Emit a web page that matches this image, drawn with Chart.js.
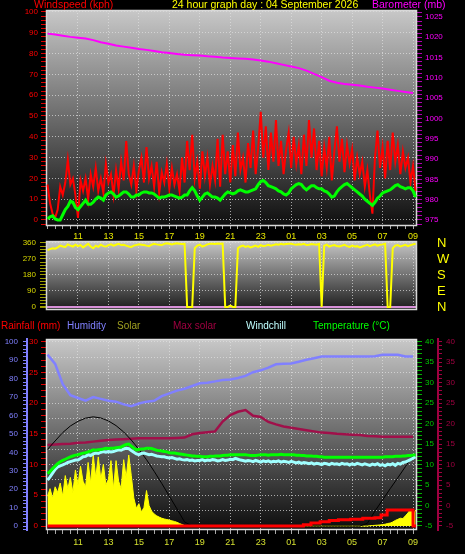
<!DOCTYPE html>
<html><head><meta charset="utf-8">
<script src="https://cdn.jsdelivr.net/npm/chart.js@4/dist/chart.umd.min.js"></script>
<style>
html,body{margin:0;padding:0;background:#000;width:465px;height:554px;overflow:hidden;position:relative;}
canvas{position:absolute;left:0;}
.t{position:absolute;font-family:"Liberation Sans",Arial,sans-serif;font-size:10.5px;line-height:12px;white-space:nowrap;}
</style></head><body>
<canvas id="cTop" style="top:0px;width:465px;height:240px" width="465" height="240"></canvas>
<canvas id="cDir" style="top:232px;width:465px;height:84px" width="465" height="84"></canvas>
<canvas id="cBot" style="top:334px;width:465px;height:220px" width="465" height="220"></canvas>
<div class="t" style="left:34px;top:-2px;color:#ff0000">Windspeed (kph)</div>
<div class="t" style="left:172px;top:-2px;color:#ffff00">24 hour graph day : 04 September 2026</div>
<div class="t" style="left:372px;top:-2px;color:#ff00ff">Barometer (mb)</div>
<div class="t" style="left:1px;top:320px;color:#ff0000;font-size:10px">Rainfall (mm)</div>
<div class="t" style="left:67px;top:320px;color:#8080ff;font-size:10px">Humidity</div>
<div class="t" style="left:117px;top:320px;color:#a0a020;font-size:10px">Solar</div>
<div class="t" style="left:173px;top:320px;color:#a00040;font-size:10px">Max solar</div>
<div class="t" style="left:246px;top:320px;color:#c0ffff;font-size:10px">Windchill</div>
<div class="t" style="left:313px;top:320px;color:#00ff00;font-size:10px">Temperature (°C)</div>
<script>
// ---------- DATA ----------
// time in hours since midnight of day 1 (9 = 09:00, 33 = 09:00 next day)
const times10 = Array.from({length:146}, (_, i) => 9 + i / 6);   // 10-minute samples
const times30 = Array.from({length:49}, (_, i) => 9 + i / 2);    // 30-minute samples

const windAvg = [0.5,1.5,2,0.5,0,0,2.5,5,6.5,9, 8.5,6,5,6.5,8,9.5,7.5,7.5,8.5,10,
 11,10.5,9.5,12,13,13.5,12.5,11,11.5,12.5, 13.5,13.5,12.5,11,11,12,12,13,13.5,13.5,
 13,13,12.5,11.5,10.5,11,11,11.5,12,12, 11.5,11,10.5,11,12,12,14,15.5,14,11.5,
 9.5,11,12.5,13,12,11,11,10.5,9.5,11, 12.5,13.5,13,12.5,13,14,14.5,14,13.5,13.5,
 14,14.5,15,17,18.5,19,18,16.5,16,15.5, 15,14,13.5,12.5,12,13,15,16,17,17.5,
 17,15.5,14.5,15.5,16.5,16.5,15.5,15,15,14, 13.5,12.5,11,11.5,13.5,15,16,17,17.5,16.5,
 15.5,14.5,13.5,12.5,11.5,10,9,8,7,8.5, 10.5,11.5,13,13.5,14,14.5,15.5,16.5,17,16,
 15.5,15,15.5,15.5,14,11];
const windGust = [17,8,3,1,5,16,12,18,29,17, 20,12,1,19,14,20,10,22,16,25,
 14,20,13,27,18,22,12,24,15,28, 19,38,22,17,26,14,24,30,18,35,
 20,26,16,28,13,23,18,27,15,25, 17,22,14,30,18,38,24,41,20,28,
 15,33,21,30,17,26,19,39,16,41, 22,33,18,36,21,42,24,30,18,37,
 25,43,22,35,52,30,45,24,42,28, 48,26,38,22,34,42,25,40,27,36,
 22,41,26,48,30,44,24,38,21,35, 25,40,19,33,45,28,39,23,36,27,
 34,19,30,22,28,16,24,12,3,30, 43,25,35,20,38,24,42,28,36,22,
 33,25,30,18,26,14];
const barometer = [1020.9,1020.7,1020.4,1020.1,1019.9,1019.7,1019.3,1018.8,1018.4,1018.0,
 1017.7,1017.4,1017.1,1016.9,1016.6,1016.3,1016.1,1015.9,1015.7,1015.6,
 1015.5,1015.3,1015.2,1015.0,1014.9,1014.8,1014.7,1014.5,1014.3,1014.0,
 1013.6,1013.2,1012.8,1012.4,1011.8,1011.0,1010.2,1009.3,1008.8,1008.5,
 1008.3,1008.1,1007.8,1007.6,1007.4,1007.1,1006.8,1006.5,1006.3];
const windDir = [320,325,330,328,335,345,340,338,352,345, 340,350,342,348,335,345,355,340,330,345,
 338,350,342,340,348,352,345,350,355,348, 350,345,340,338,345,348,352,350,348,345,
 342,350,355,352,350,348,355,358,355,352, 355,358,356,354,355,0,0,0,330,345,
 350,340,345,352,355,356,354,357,355,356, 0,0,8,0,0,330,340,345,338,342,
 335,340,345,338,348,342,345,350,345,348, 352,350,355,352,354,356,355,352,350,353,
 352,355,348,350,354,352,350,355,0,345, 350,340,345,348,343,340,345,350,342,338,
 345,340,342,335,340,345,350,342,348,352, 345,350,352,355,0,0,330,345,348,340,
 345,350,342,348,352,355];
const dirLabels = {0:'N', 90:'E', 180:'S', 270:'W', 360:'N'};

const solar = [160,200,150,210,180,230,160,270,200,260, 180,300,220,320,240,210,340,230,380,260,
 370,250,330,220,250,350,200,350,240,200, 355,260,380,270,150,95,120,75,100,190,
 110,80,65,55,48,42,38,35,32,28, 25,20,14,8,3,0,0,0,0,0,
 0,0,0,0,0,0,0,0,0,0, 0,0,0,0,0,0,0,0,0,0, 0,0,0,0,0,0,0,0,0,0,
 0,0,0,0,0,0,0,0,0,0, 0,0,0,0,0,0,0,0,0,0, 0,0,0,0,0,0,0,0,0,0,
 0,0,0,0,0,0,0,2,3,4, 5,6,8,10,14,16,22,30,36,42, 40,55,70,90,60,85];
const sunMax = [410,455,500,535,560,577,584,578,562,537, 503,460,410,355,293,228,160,92,22,
 0,0,0,0,0,0,0,0,0,0,0,0,0,0,0,0,0,0,0,0,0,0,0,
 15,80,140,200,258,318,378];
const humidity = [93,88,77,71,69.5,68,70,69,68,67.5, 66,65,66.5,67.5,68,70.5,72,73.5,74.5,76,
 77.5,77.8,78.5,79.3,79.5,80.3,81.5,83.5,84.5,86, 87.8,88,88.2,89.2,90.2,91.1,92,92,92,92,
 92,92,92,92.2,92.9,92.9,92.9,92,92];
const maxSolarLine = [14.8,14.9,15.0,15.1,15.3,15.4,15.6,15.8,16.0,16.1, 16.2,16.3,16.4,16.4,16.4,16.4,16.4,16.5,16.6,17.4,
 17.7,17.9,18.1,20.5,22.1,22.9,23.3,21.9,21.6,20.4, 19.8,19.3,19.0,18.7,18.4,18.1,17.8,17.7,17.5,17.4,
 17.3,17.2,17.0,16.9,16.8,16.8,16.8,16.8,16.8];
const temperature = [7.8,8.3,9.0,9.6,10.2,10.7,11.0,11.3,11.6,11.9, 12.1,12.3,12.4,12.6,12.8,12.9,13.1,13.3,13.6,13.5,
 13.6,13.7,13.8,14.0,13.9,14.0,14.0,14.1,14.2,14.3, 14.6,14.9,15.0,14.5,14.0,13.6,13.7,13.8,13.8,14.0,
 14.0,13.9,13.7,13.5,13.4,13.3,13.2,13.1,12.9,12.8, 12.8,12.7,12.6,12.5,12.4,12.3,12.2,12.1,12.1,12.0,
 12.0,11.9,11.9,11.9,12.0,12.0,12.1,12.1,12.1,12.2, 12.3,12.3,12.4,12.4,12.4,12.4,12.4,12.4,12.4,12.3,
 12.2,12.2,12.2,12.3,12.4,12.4,12.4,12.3,12.4,12.4, 12.4,12.4,12.5,12.4,12.4,12.4,12.4,12.4,12.3,12.3,
 12.2,12.2,12.1,12.1,12.1,12.0,12.0,11.9,11.9,11.8, 11.8,11.8,11.8,11.8,11.8,11.8,11.8,11.8,11.8,11.8,
 11.8,11.8,11.8,11.8,11.8,11.8,11.8,11.8,11.8,11.8, 11.8,11.8,11.8,11.9,11.9,11.9,11.9,12.0,12.0,12.0,
 12.1,12.1,12.2,12.2,12.3,12.4];
const windchill = [6.2,7.0,7.9,8.8,9.4,9.7,9.9,10.2,10.5,10.7, 10.9,11.1,11.1,11.5,11.9,12.0,12.4,12.2,12.6,12.8,
 12.7,13.0,13.2,13.0,13.2,13.1,13.2,13.4,13.6,13.5, 13.8,14.0,13.9,13.4,13.0,12.6,12.4,12.7,12.8,12.6,
 12.4,12.5,12.3,12.1,12.0,11.9,11.9,11.7,11.6,11.7, 11.5,11.3,11.4,11.2,11.1,11.2,11.0,11.1,10.9,11.0,
 11.0,11.2,10.9,11.1,11.0,11.2,11.1,10.9,11.0,11.2, 11.0,11.1,11.3,11.2,11.5,11.3,11.1,11.0,10.8,11.0,
 10.9,10.7,11.0,10.8,10.6,10.9,10.7,10.9,10.6,10.8, 10.7,10.9,10.6,10.8,10.7,10.5,10.8,10.6,10.4,10.6,
 10.3,10.5,10.4,10.2,10.4,10.1,10.3,10.2,10.0,10.3, 10.2,10.0,10.3,10.1,10.2,10.0,10.3,10.1,10.2,9.9,
 10.2,10.0,10.3,10.1,9.9,10.2,10.0,9.8,10.1,9.9, 10.2,9.8,10.0,9.7,10.1,9.9,10.2,9.8,10.3,10.1,
 10.5,10.6,10.9,11.2,11.6,11.9];
const rainTimes = [9, 25.8, 26.3, 26.9, 27.5, 28.1, 28.9, 29.7, 30.5, 30.9, 31.3, 33.0, 33.2];
const rainfall  = [0, 0.2, 0.5, 0.7, 0.9, 1.0, 1.1, 1.25, 1.35, 1.8, 2.6, 0, 0];

// ---------- HELPERS ----------
const FONT = '"Liberation Sans", Arial, sans-serif';
const GRID = 'rgba(225,225,225,0.7)';
const X_MIN = 8.9, X_MAX = 33.26;
const pts = (ts, vs) => vs.map((v, i) => ({x: ts[i], y: v}));
function isMult(v, m){ const r = v / m; return Math.abs(r - Math.round(r)) < 1e-6; }
const isLabelHour = v => isMult(v, 1) && !isMult(v, 2) && v > 10;

function timeAxis(o){
  return {
    type:'linear', position:'bottom', min:X_MIN, max:X_MAX,
    afterFit: s => { s.height = o.h; s.paddingLeft = 0; s.paddingRight = 0; },
    ticks:{ display:o.labels, stepSize:0.5, includeBounds:false, autoSkip:false, maxRotation:0, minRotation:0,
      color:o.color || '#e0e000', font:{family:FONT, size:9}, padding:o.pad || 2,
      callback: v => isLabelHour(v) ? String(v % 24).padStart(2, '0') : '' },
    grid:{ drawTicks:o.labels, tickLength:o.tl || 3,
      color: c => (c.tick && isLabelHour(c.tick.value)) ? GRID : 'transparent',
      tickColor: c => (c.tick && isMult(c.tick.value, 0.5)) ? '#a8a8a8' : 'transparent' },
    border:{ display:false, dash:[1,2] }
  };
}
function yAxis(o){
  return {
    type:'linear', position:o.pos, weight:o.weight || 0, min:o.min, max:o.max, display:o.display !== false,
    afterFit: s => { s.width = o.w; s.paddingTop = 0; s.paddingBottom = 0; },
    ticks:{ stepSize:o.step, includeBounds:false, autoSkip:false, color:o.color, font:{family:FONT, size:o.fs || 8}, padding:o.pad,
      callback: v => o.fmt ? (o.fmt(v) || '') : (isMult(v, o.lab) ? String(Math.round(v)) : '') },
    grid:{ drawOnChartArea:!!o.grid, drawTicks:(o.tl || 0) > 0, tickLength:o.tl || 0,
      color: c => (o.grid && c.tick && isMult(c.tick.value, o.grid)) ? (o.gridColor ? o.gridColor(c.tick.value) : GRID) : 'transparent',
      lineWidth: c => (o.gridWidth && c.tick) ? o.gridWidth(c.tick.value) : 1,
      tickColor: c => (c.tick && o.tick && isMult(c.tick.value, o.tick)) ? o.tickColor : 'transparent' },
    border:{ display:!!o.border, color:o.border || 'transparent', width:2, dash:o.dash || [] }
  };
}
const plotBg = {
  id:'plotBg',
  beforeDraw(chart, args, opts){
    const {ctx, chartArea:a} = chart;
    const g = ctx.createLinearGradient(0, a.top, 0, a.bottom);
    g.addColorStop(0, opts.top); g.addColorStop(1, opts.bottom);
    ctx.save(); ctx.fillStyle = g; ctx.fillRect(a.left, a.top, a.right - a.left, a.bottom - a.top); ctx.restore();
  },
  beforeDatasetsDraw(chart, args, opts){
    const {ctx, chartArea:a} = chart;
    ctx.save(); ctx.strokeStyle = opts.frame; ctx.lineWidth = 1.5;
    ctx.strokeRect(a.left + 0.5, a.top + 0.5, a.right - a.left - 1, a.bottom - a.top - 1); ctx.restore();
  }
};
function line(label, data, color, axis, width, extra){
  return Object.assign({label, data, borderColor:color, backgroundColor:color, yAxisID:axis,
    borderWidth:width, pointRadius:0, tension:0, fill:false}, extra || {});
}
function baseOptions(padding, scales, bg){
  return { responsive:false, animation:false, devicePixelRatio:1,
    layout:{padding}, scales,
    plugins:{ legend:{display:false}, tooltip:{enabled:false}, plotBg:bg } };
}

// ---------- TOP: wind + barometer ----------
new Chart(document.getElementById('cTop'), {
  type:'line',
  data:{ datasets:[
    line('Wind speed', pts(times10, windAvg), '#00ff00', 'ws', 3),
    line('Wind gust', pts(times10, windGust), '#ff0000', 'ws', 2),
    line('Barometer', pts(times30, barometer), '#ff00ff', 'baro', 2)
  ]},
  options: baseOptions({top:10, left:0, right:0, bottom:0}, {
    x: timeAxis({h:14, labels:true, tl:3, pad:2, color:'#e8e800'}),
    ws: yAxis({pos:'left', min:-2.9, max:100.96, w:46, step:2, lab:10, color:'#ff0000', pad:3,
      tl:5, tick:2, tickColor:'#e00000', grid:10, dash:[1,2]}),
    baro: yAxis({pos:'right', min:973.52, max:1026.72, w:48, step:1, lab:5, color:'#ff00ff', pad:3,
      tl:5, tick:1, tickColor:'#b000b0'})
  }, {top:'#c8c8c8', bottom:'#0e0e0e', frame:'#d8d8d8'}),
  plugins:[plotBg]
});

// ---------- MIDDLE: wind direction ----------
new Chart(document.getElementById('cDir'), {
  type:'line',
  data:{ datasets:[ line('Wind direction', pts(times10, windDir), '#ffff00', 'dir', 2) ]},
  options: baseOptions({top:9, left:0, right:0, bottom:6}, {
    x: timeAxis({h:0, labels:false}),
    dir: yAxis({pos:'left', min:-17, max:371, w:46, step:18, lab:90, color:'#d8d800', pad:4,
      tl:6, tick:18, tickColor:'#a0a000', grid:90,
      gridColor: v => v === 0 ? 'rgba(225,150,225,0.95)' : GRID,
      gridWidth: v => v === 0 ? 2 : 1,
      dash: c => (c.tick && c.tick.value === 0) ? [] : [1,2]}),
    dirR: yAxis({pos:'right', min:-17, max:371, w:48, step:90, color:'#ffff00', fs:13, pad:20,
      fmt: v => dirLabels[v]})
  }, {top:'#c8c8c8', bottom:'#1a1a1a', frame:'#d8d8d8'}),
  plugins:[plotBg]
});

// ---------- BOTTOM: rain, humidity, solar, temperature ----------
new Chart(document.getElementById('cBot'), {
  type:'line',
  data:{ datasets:[
    line('Rainfall', pts(rainTimes, rainfall), '#ff0000', 'rain', 3, {stepped:true}),
    line('Temperature', pts(times10, temperature), '#00ff00', 'temp', 3),
    line('Windchill', pts(times10, windchill), '#a0ffff', 'temp', 3),
    line('Theoretical solar', pts(times30, sunMax), '#000000', 'solar', 1),
    line('Humidity', pts(times30, humidity), '#8080ff', 'hum', 2.5),
    line('Max solar', pts(times30, maxSolarLine), '#a0104a', 'ms', 2.5),
    line('Solar', pts(times10, solar), '#ffff00', 'solar', 1, {fill:'origin', backgroundColor:'#ffff00'})
  ]},
  options: baseOptions({top:5, left:0, right:0, bottom:0}, {
    x: timeAxis({h:24, labels:true, tl:4, pad:3, color:'#d4e030'}),
    hum: yAxis({pos:'left', weight:1, min:-2.17, max:101.5, w:27, step:2, lab:10, color:'#8080ff', pad:5,
      tl:4, tick:2, tickColor:'#8080ff', border:'#8080ff'}),
    rain: yAxis({pos:'left', weight:0, min:-0.65, max:30.44, w:19, step:0.5, lab:5, color:'#ff0000', pad:3,
      tl:5, tick:1, tickColor:'#e00000', grid:2.5, dash:[1,2]}),
    temp: yAxis({pos:'right', weight:0, min:-5.98, max:40.66, w:21, step:1, lab:5, color:'#00c800', pad:3,
      tl:5, tick:1, tickColor:'#00b000'}),
    ms: yAxis({pos:'right', weight:1, min:-5.98, max:40.66, w:27, step:1, lab:5, color:'#a00040', pad:4,
      tl:4, tick:1, tickColor:'#a00040', border:'#a00040'}),
    solar: {type:'linear', display:false, min:-20.9, max:1000}
  }, {top:'#c8c8c8', bottom:'#0c0c0c', frame:'#e0e0e0'}),
  plugins:[plotBg]
});
</script>
</body></html>
